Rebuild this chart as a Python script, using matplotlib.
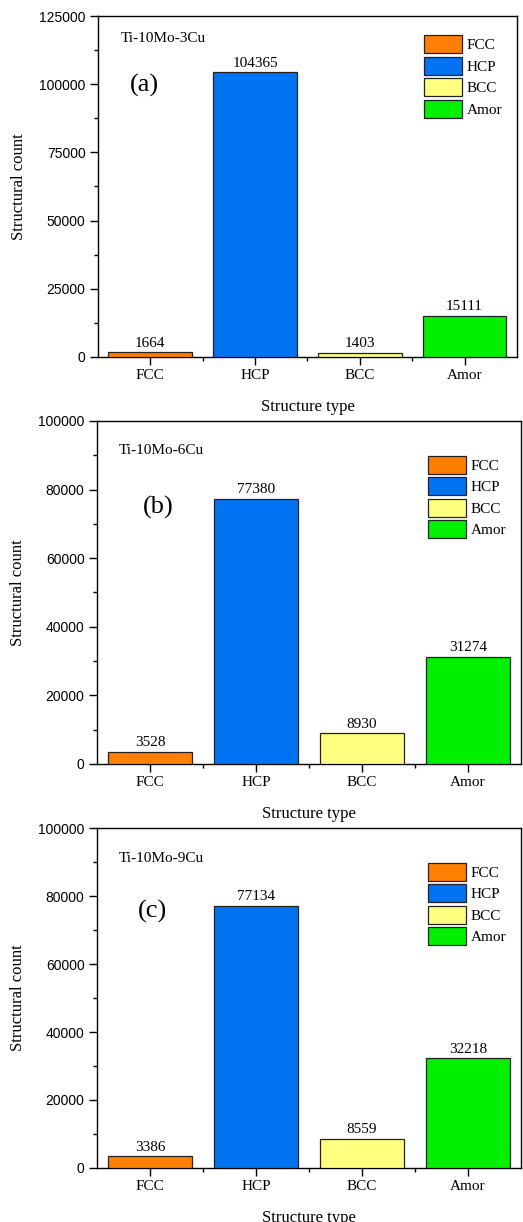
import matplotlib
matplotlib.use("Agg")
import matplotlib.pyplot as plt
from matplotlib.patches import Patch
from matplotlib.ticker import MultipleLocator, FixedLocator

# --- Data -------------------------------------------------------------------
STRUCTURES = ["FCC", "HCP", "BCC", "Amor"]
ALLOYS = ["Ti-10Mo-3Cu", "Ti-10Mo-6Cu", "Ti-10Mo-9Cu"]
PANEL_TAGS = ["(a)", "(b)", "(c)"]
COUNTS_3CU = [1664, 104365, 1403, 15111]
COUNTS_6CU = [3528, 77380, 8930, 31274]
COUNTS_9CU = [3386, 77134, 8559, 32218]
Y_MAX = [125000, 100000, 100000]
Y_MAJOR = [25000, 20000, 20000]

# --- Style ------------------------------------------------------------------
BAR_COLORS = ["#FF8000", "#0073F2", "#FFFF80", "#00F000"]
EDGE = "#222222"
SERIF = "Liberation Serif"
SANS = "Liberation Sans"

# axes rectangles in figure fractions (left, bottom, width, height)
RECTS = [
    (0.1874, 0.7079, 0.8010, 0.2790),
    (0.1855, 0.3748, 0.8107, 0.2807),
    (0.1855, 0.0442, 0.8107, 0.2782),
]
ALLOY_POS = [(0.055, 0.933), (0.052, 0.913), (0.052, 0.909)]
TAG_POS = [(0.11, 0.795), (0.144, 0.749), (0.13, 0.756)]
LEGEND_ANCHOR = [(0.99, 0.975), (0.99, 0.93), (0.99, 0.93)]

fig = plt.figure(figsize=(5.23, 12.22), dpi=100)
fig.patch.set_facecolor("white")

all_counts = [COUNTS_3CU, COUNTS_6CU, COUNTS_9CU]
x = list(range(len(STRUCTURES)))

for i, counts in enumerate(all_counts):
    ax = fig.add_axes(RECTS[i])
    bars = ax.bar(x, counts, width=0.8, color=BAR_COLORS,
                  edgecolor=EDGE, linewidth=0.9, zorder=3)
    ax.bar_label(bars, labels=[str(c) for c in counts], padding=2,
                 fontsize=11, family=SERIF)

    ax.set_xlim(-0.5, 3.5)
    ax.set_ylim(0, Y_MAX[i])
    ax.set_xticks(x)
    ax.set_xticklabels(STRUCTURES, family=SERIF, fontsize=11)
    ax.xaxis.set_minor_locator(FixedLocator([0.5, 1.5, 2.5]))
    ax.yaxis.set_major_locator(MultipleLocator(Y_MAJOR[i]))
    ax.yaxis.set_minor_locator(MultipleLocator(Y_MAJOR[i] / 2))
    for lab in ax.get_yticklabels():
        lab.set_family(SANS)
        lab.set_fontsize(10)

    ax.tick_params(axis="both", which="major", direction="out",
                   length=6, width=1, pad=3)
    ax.tick_params(axis="both", which="minor", direction="out",
                   length=3, width=1)
    for side in ax.spines.values():
        side.set_linewidth(1.0)

    ax.set_xlabel("Structure type", family=SERIF, fontsize=12, labelpad=12)
    ax.set_ylabel("Structural count", family=SERIF, fontsize=12, labelpad=9)

    ax.text(*ALLOY_POS[i], ALLOYS[i], transform=ax.transAxes,
            family=SERIF, fontsize=11, va="center", ha="left")
    ax.text(*TAG_POS[i], PANEL_TAGS[i], transform=ax.transAxes,
            family=SERIF, fontsize=19, va="center", ha="center")

    handles = [Patch(facecolor=c, edgecolor=EDGE, linewidth=0.9)
               for c in BAR_COLORS]
    ax.legend(handles, STRUCTURES, loc="upper right",
              bbox_to_anchor=LEGEND_ANCHOR[i], frameon=False,
              prop={"family": SERIF, "size": 11},
              handlelength=2.5, handleheight=1.45, handletextpad=0.3,
              labelspacing=0.22, borderaxespad=0.3)

fig.savefig("out.png", dpi=100, facecolor="white")
